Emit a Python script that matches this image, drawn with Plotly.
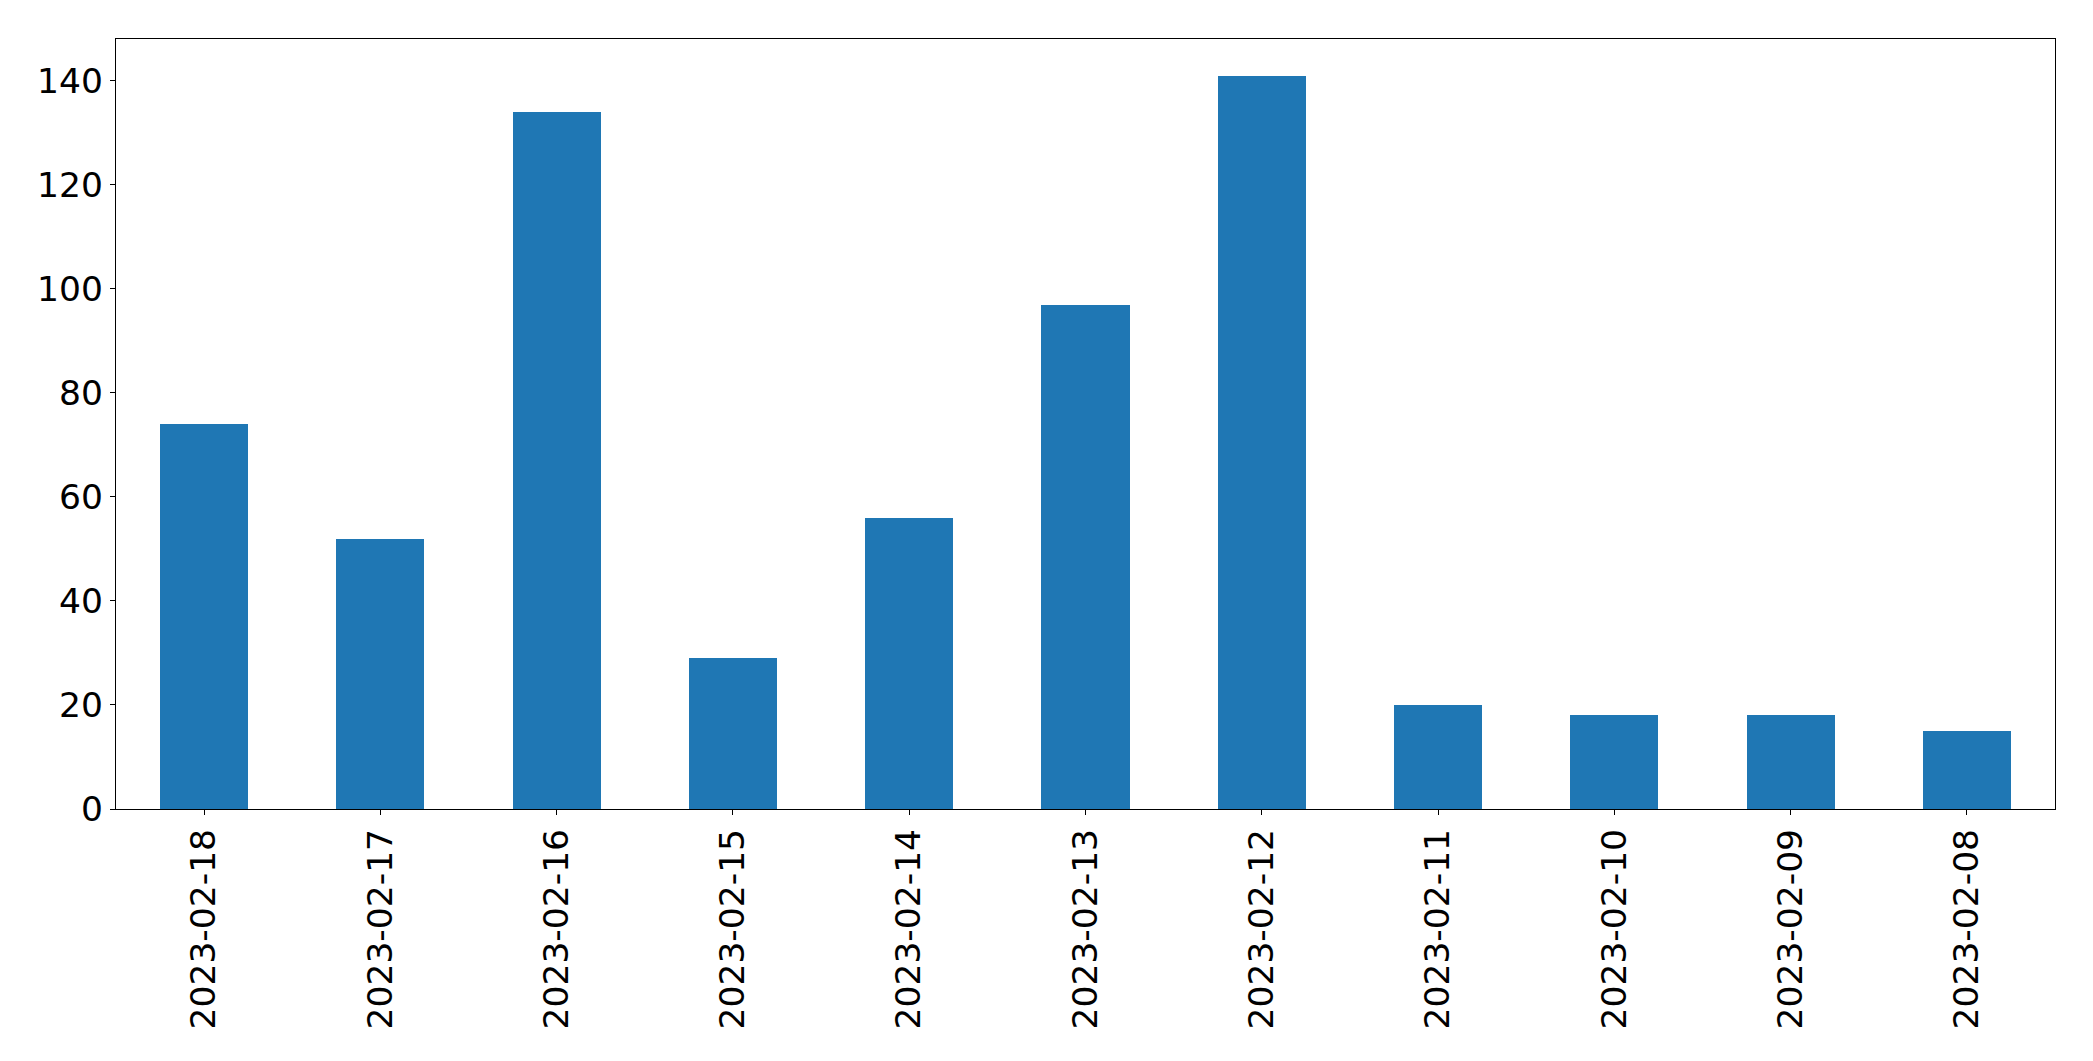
import plotly.graph_objects as go

dates = ["2023-02-18", "2023-02-17", "2023-02-16", "2023-02-15", "2023-02-14",
         "2023-02-13", "2023-02-12", "2023-02-11", "2023-02-10", "2023-02-09", "2023-02-08"]
counts = [74, 52, 134, 29, 56, 97, 141, 20, 18, 18, 15]
y_ticks = [0, 20, 40, 60, 80, 100, 120, 140]

W, H = 2093, 1061
fig = go.Figure(go.Bar(
    x=list(range(len(dates))), y=counts, width=0.5,
    marker=dict(color="#1f77b4", line=dict(width=0)),
))

font = dict(family="DejaVu Sans", size=34.5, color="black")
fig.update_layout(
    width=W, height=H,
    margin=dict(l=116.3, r=38.3, t=39.3, b=251.7, pad=0),
    plot_bgcolor="white", paper_bgcolor="white",
    showlegend=False, font=font, bargap=0,
)
fig.update_xaxes(
    range=[-0.5, len(dates) - 0.5],
    tickmode="array", tickvals=list(range(len(dates))), ticktext=dates,
    tickangle=-90, ticks="outside", ticklen=5, tickwidth=1.3, tickcolor="black",
    showline=True, linecolor="black", linewidth=1.3, mirror=True,
    showgrid=False, zeroline=False, tickfont=font, ticklabelstandoff=0,
)
fig.update_yaxes(
    range=[0, max(counts) * 1.05],
    tickmode="array", tickvals=y_ticks, ticktext=[str(v) for v in y_ticks],
    ticks="outside", ticklen=5, tickwidth=1.3, tickcolor="black",
    showline=True, linecolor="black", linewidth=1.3, mirror=True,
    showgrid=False, zeroline=False, tickfont=font, ticklabelstandoff=0,
)
fig.write_html("out.html", config={"displayModeBar": False})

with open("out.html", "r", encoding="utf-8") as f:
    html = f.read()
html = html.replace("<head>", "<head><style>html,body{margin:0;padding:0;overflow:hidden;}</style>", 1)
with open("out.html", "w", encoding="utf-8") as f:
    f.write(html)
